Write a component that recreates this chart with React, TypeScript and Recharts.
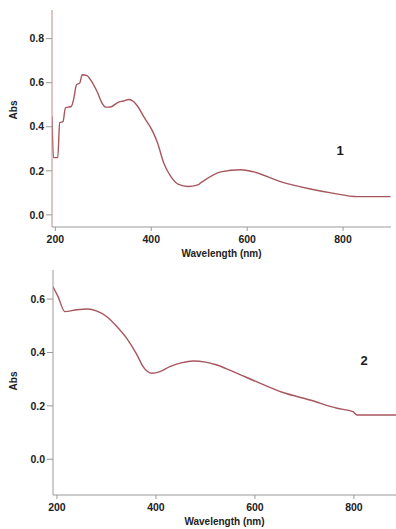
import { Line, LineChart, XAxis, YAxis } from "recharts";

// spectrum 1: wavelength (nm) and absorbance
const wavelength1 = [
  193, 196, 205, 209, 216, 221, 233, 238, 244, 251, 256, 266, 273, 287, 298, 305, 315, 332, 342,
  353, 363, 372, 384, 403, 413, 426, 441, 457, 476, 497, 503, 545, 587, 614, 671, 727, 775, 831,
  899,
];
const abs1 = [
  0.447, 0.26, 0.26, 0.418, 0.424, 0.486, 0.492, 0.523, 0.59, 0.599, 0.636, 0.632, 0.614, 0.56,
  0.505, 0.489, 0.49, 0.512, 0.517, 0.524, 0.515, 0.492, 0.447, 0.379, 0.327, 0.236, 0.174, 0.138,
  0.129, 0.136, 0.145, 0.195, 0.205, 0.195, 0.15, 0.12, 0.1, 0.083, 0.083,
];

// spectrum 2
const wavelength2 = [
  192, 202, 216, 240, 261, 281, 301, 321, 341, 362, 374, 392, 408, 428, 453, 475, 500, 520, 556,
  604, 657, 711, 766, 798, 806, 885,
];
const abs2 = [
  0.646, 0.61, 0.553, 0.56, 0.563, 0.555, 0.534, 0.497, 0.453, 0.39, 0.347, 0.322, 0.328, 0.347,
  0.362, 0.368, 0.364, 0.355, 0.328, 0.29, 0.25, 0.222, 0.191, 0.178, 0.166, 0.166,
];

const xTicks = [200, 400, 600, 800];
const yTicks1 = [0, 0.2, 0.4, 0.6, 0.8];
const yTicks2 = [0, 0.2, 0.4, 0.6];

const FONT = "'Liberation Sans', Arial, sans-serif";
const AXIS = "#9a9a9a";
const LINE = "#a8565e";
const tickStyle = { fill: "#222222", fontSize: 10.5, fontWeight: 700, fontFamily: FONT };

const rows1 = wavelength1.map((w, i) => ({ w, a: abs1[i] }));
const rows2 = wavelength2.map((w, i) => ({ w, a: abs2[i] }));

function Spectrum({
  data,
  width,
  height,
  margin,
  xDomain,
  yDomain,
  yTicks,
  yAxisColor,
}: {
  data: { w: number; a: number }[];
  width: number;
  height: number;
  margin: { top: number; right: number; left: number; bottom: number };
  xDomain: [number, number];
  yDomain: [number, number];
  yTicks: number[];
  yAxisColor: string;
}) {
  return (
    <LineChart width={width} height={height} data={data} margin={margin}>
      <XAxis
        dataKey="w"
        type="number"
        domain={xDomain}
        ticks={xTicks}
        allowDataOverflow
        height={30}
        tickSize={4}
        tickMargin={5}
        axisLine={{ stroke: AXIS }}
        tickLine={{ stroke: AXIS }}
        tick={tickStyle}
        label={{
          value: "Wavelength (nm)",
          position: "insideBottom",
          offset: 0,
          fill: "#222222",
          fontSize: 10,
          fontWeight: 700,
          fontFamily: FONT,
        }}
      />
      <YAxis
        type="number"
        domain={yDomain}
        ticks={yTicks}
        allowDataOverflow
        width={40}
        tickSize={6}
        tickMargin={2}
        tickFormatter={(v: number) => v.toFixed(1)}
        axisLine={{ stroke: yAxisColor }}
        tickLine={{ stroke: AXIS }}
        tick={tickStyle}
      />
      <Line
        type="monotone"
        dataKey="a"
        stroke={LINE}
        strokeWidth={1.4}
        dot={false}
        isAnimationActive={false}
      />
    </LineChart>
  );
}

const note: React.CSSProperties = {
  position: "absolute",
  fontFamily: FONT,
  fontWeight: 700,
  color: "#1a1a1a",
  lineHeight: 1,
};

export default function App() {
  return (
    <div
      style={{
        position: "absolute",
        left: 0,
        top: 0,
        width: 396,
        height: 529,
        background: "#ffffff",
        overflow: "hidden",
      }}
    >
      <div style={{ position: "absolute", left: 0, top: 0 }}>
        <Spectrum
          data={rows1}
          width={396}
          height={260}
          margin={{ top: 10, right: 5, left: 12, bottom: 3 }}
          xDomain={[193, 900]}
          yDomain={[-0.055, 0.93]}
          yTicks={yTicks1}
          yAxisColor="#c28a8c"
        />
      </div>
      <div style={{ position: "absolute", left: 0, top: 260 }}>
        <Spectrum
          data={rows2}
          width={396}
          height={269}
          margin={{ top: 10, right: 0, left: 13, bottom: 4 }}
          xDomain={[192, 885]}
          yDomain={[-0.134, 0.709]}
          yTicks={yTicks2}
          yAxisColor={AXIS}
        />
      </div>
      <div
        style={{
          ...note,
          fontSize: 10,
          left: 14,
          top: 110,
          transform: "translate(-50%, -50%) rotate(-90deg)",
        }}
      >
        Abs
      </div>
      <div
        style={{
          ...note,
          fontSize: 10,
          left: 14,
          top: 381,
          transform: "translate(-50%, -50%) rotate(-90deg)",
        }}
      >
        Abs
      </div>
      <div style={{ ...note, fontSize: 13, left: 340, top: 150, transform: "translate(-50%, -50%)" }}>
        1
      </div>
      <div style={{ ...note, fontSize: 13, left: 364, top: 360, transform: "translate(-50%, -50%)" }}>
        2
      </div>
    </div>
  );
}
